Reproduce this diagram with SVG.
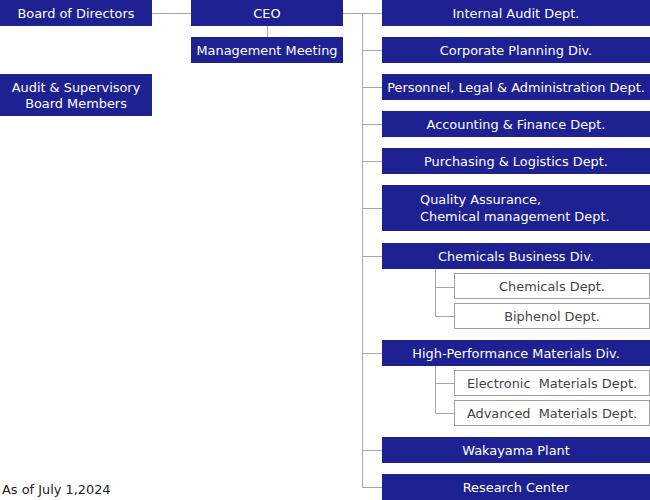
<svg xmlns="http://www.w3.org/2000/svg" width="650" height="500" viewBox="0 0 650 500">
<style>
.b{fill:#1e2192}
.w{fill:#fff;stroke:#a0a0a0;stroke-width:1}
.t{font-family:"DejaVu Sans","Open Sans",sans-serif;font-size:12.9px;fill:#fff;text-anchor:middle}
.s{font-family:"DejaVu Sans","Open Sans",sans-serif;font-size:12.9px;fill:#444;text-anchor:middle}
.l{stroke:#a8a8a8;stroke-width:1;fill:none}
</style>
<rect width="650" height="500" fill="#fff"/>
<g id="connectors" class="l">
<path d="M152 13.5H191"/>
<path d="M267.5 26V37"/>
<path d="M343 13.5H382"/>
<path d="M362.5 13.5V487.5"/>
<path d="M362.5 50.5H382M362.5 87.5H382M362.5 124.5H382M362.5 161.5H382M362.5 208.5H382M362.5 256.5H382M362.5 353.5H382M362.5 450.5H382M362.5 487.5H382"/>
<path d="M435.5 269V316.5H454M435.5 287.5H454"/>
<path d="M435.5 366V413.5H454M435.5 383.5H454"/>
</g>
<g id="board"><rect class="b" x="0" y="0" width="152" height="26"/><text class="t" x="76" y="18">Board of Directors</text></g>
<g id="ceo"><rect class="b" x="191" y="0" width="152" height="26"/><text class="t" x="267" y="18">CEO</text></g>
<g id="mgmt"><rect class="b" x="191" y="37" width="152" height="26"/><text class="t" x="267" y="55">Management Meeting</text></g>
<g id="audit"><rect class="b" x="0" y="74" width="152" height="42"/><text class="t" x="76" y="92">Audit &amp; Supervisory</text><text class="t" x="76" y="108">Board Members</text></g>
<g id="internal"><rect class="b" x="382" y="0" width="268" height="26"/><text class="t" x="516" y="18">Internal Audit Dept.</text></g>
<g id="planning"><rect class="b" x="382" y="37" width="268" height="26"/><text class="t" x="516" y="55">Corporate Planning Div.</text></g>
<g id="personnel"><rect class="b" x="382" y="74" width="268" height="26"/><text class="t" x="516" y="92">Personnel, Legal &amp; Administration Dept.</text></g>
<g id="accounting"><rect class="b" x="382" y="111" width="268" height="26"/><text class="t" x="516" y="129">Accounting &amp; Finance Dept.</text></g>
<g id="purchasing"><rect class="b" x="382" y="148" width="268" height="26"/><text class="t" x="516" y="166">Purchasing &amp; Logistics Dept.</text></g>
<g id="quality"><rect class="b" x="382" y="185" width="268" height="46"/><text class="t" x="420" y="204" style="text-anchor:start">Quality Assurance,</text><text class="t" x="420" y="221" style="text-anchor:start">Chemical management Dept.</text></g>
<g id="chembiz"><rect class="b" x="382" y="243" width="268" height="26"/><text class="t" x="516" y="261">Chemicals Business Div.</text></g>
<g id="chemdept"><rect class="w" x="454.5" y="273.5" width="195" height="25"/><text class="s" x="552" y="291">Chemicals Dept.</text></g>
<g id="biphenol"><rect class="w" x="454.5" y="303.5" width="195" height="25"/><text class="s" x="552" y="321">Biphenol Dept.</text></g>
<g id="hpm"><rect class="b" x="382" y="340" width="268" height="26"/><text class="t" x="516" y="358">High-Performance Materials Div.</text></g>
<g id="electronic"><rect class="w" x="454.5" y="370.5" width="195" height="25"/><text class="s" x="552" y="388">Electronic&#160; Materials Dept.</text></g>
<g id="advanced"><rect class="w" x="454.5" y="400.5" width="195" height="25"/><text class="s" x="552" y="418">Advanced&#160; Materials Dept.</text></g>
<g id="wakayama"><rect class="b" x="382" y="437" width="268" height="26"/><text class="t" x="516" y="455">Wakayama Plant</text></g>
<g id="research"><rect class="b" x="382" y="474" width="268" height="26"/><text class="t" x="516" y="492">Research Center</text></g>
<text x="2" y="494" style="font-family:'DejaVu Sans','Open Sans',sans-serif;font-size:12.9px;fill:#222">As of July 1,2024</text>
</svg>
